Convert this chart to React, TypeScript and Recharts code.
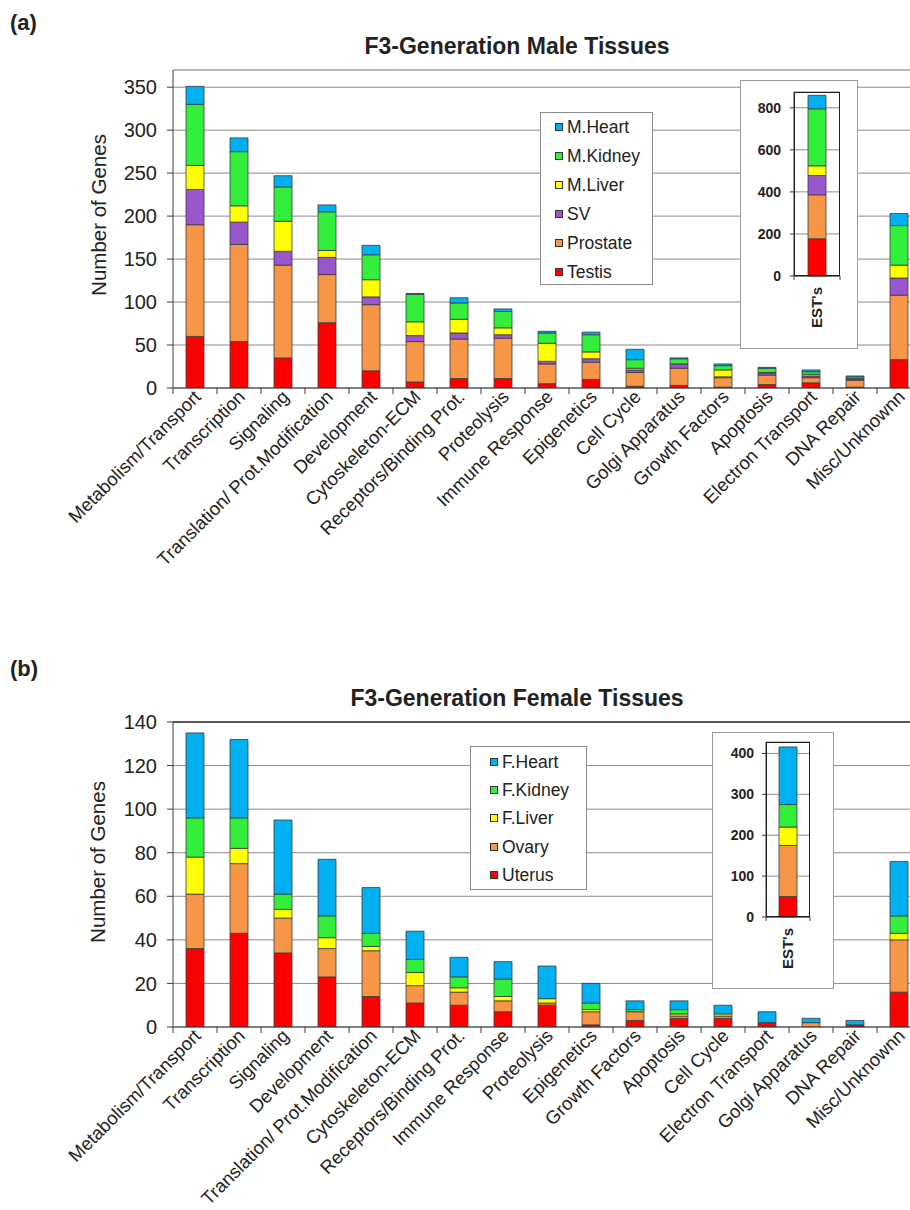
import React from 'react';
import { BarChart, Bar, XAxis, YAxis, CartesianGrid, ReferenceLine, Legend } from 'recharts';

// ---- colours ----
const HEART = '#00B0F0';
const KIDNEY = '#33EE3A';
const LIVER = '#FFFF00';
const SV_C = '#9A57CD';
const ORANGE = '#F79646';
const RED = '#FF0000';
const INK = '#222222';
const AXIS = '#3a3a3a';
const GRID = '#8a8a8a';
const FONT = '"Liberation Sans", Arial, sans-serif';

// ---- (a) male tissues ----
const maleCategories = [
  'Metabolism/Transport', 'Transcription', 'Signaling', 'Translation/ Prot.Modification',
  'Development', 'Cytoskeleton-ECM', 'Receptors/Binding Prot.', 'Proteolysis',
  'Immune Response', 'Epigenetics', 'Cell Cycle', 'Golgi Apparatus', 'Growth Factors',
  'Apoptosis', 'Electron Transport', 'DNA Repair', 'Misc/Unknownn',
];
const maleTestis = [60, 54, 35, 76, 20, 7, 11, 11, 5, 10, 2, 3, 1, 4, 6, 1, 33];
const maleProstate = [130, 113, 108, 56, 77, 47, 46, 47, 23, 20, 16, 20, 11, 11, 6, 8, 75];
const maleSV = [41, 26, 16, 20, 9, 7, 7, 4, 3, 4, 3, 5, 1, 2, 2, 1, 20];
const maleLiver = [28, 19, 35, 8, 20, 16, 16, 8, 21, 8, 2, 0, 8, 1, 2, 1, 15];
const maleKidney = [71, 63, 40, 45, 29, 32, 19, 19, 12, 20, 10, 6, 5, 5, 3, 2, 46];
const maleHeart = [21, 16, 13, 8, 11, 1, 6, 3, 2, 3, 12, 1, 2, 1, 2, 1, 14];
const maleTicks = [0, 50, 100, 150, 200, 250, 300, 350];

// EST's inset (Testis, Prostate, SV, M.Liver, M.Kidney, M.Heart)
const maleEst = [177, 209, 92, 46, 271, 64];
const maleEstTicks = [0, 200, 400, 600, 800];

// ---- (b) female tissues ----
const femaleCategories = [
  'Metabolism/Transport', 'Transcription', 'Signaling', 'Development',
  'Translation/ Prot.Modification', 'Cytoskeleton-ECM', 'Receptors/Binding Prot.',
  'Immune Response', 'Proteolysis', 'Epigenetics', 'Growth Factors', 'Apoptosis',
  'Cell Cycle', 'Electron Transport', 'Golgi Apparatus', 'DNA Repair', 'Misc/Unknownn',
];
const femaleUterus = [36, 43, 34, 23, 14, 11, 10, 7, 10, 1, 3, 4, 4, 2, 0, 1, 16];
const femaleOvary = [25, 32, 16, 13, 21, 8, 6, 5, 1, 6, 4, 1, 1, 0, 2, 0, 24];
const femaleLiver = [17, 7, 4, 5, 2, 6, 2, 2, 2, 1, 0, 1, 1, 0, 0, 0, 3];
const femaleKidney = [18, 14, 7, 10, 6, 6, 5, 8, 0, 3, 1, 2, 0, 0, 0, 0, 8];
const femaleHeart = [39, 36, 34, 26, 21, 13, 9, 8, 15, 9, 4, 4, 4, 5, 2, 2, 25];
const femaleTicks = [0, 20, 40, 60, 80, 100, 120, 140];

// EST's inset (Uterus, Ovary, F.Liver, F.Kidney, F.Heart)
const femaleEst = [50, 125, 45, 55, 141];
const femaleEstTicks = [0, 100, 200, 300, 400];

type Series = { key: string; color: string; values: number[] };

const maleSeries: Series[] = [
  { key: 'Testis', color: RED, values: maleTestis },
  { key: 'Prostate', color: ORANGE, values: maleProstate },
  { key: 'SV', color: SV_C, values: maleSV },
  { key: 'M.Liver', color: LIVER, values: maleLiver },
  { key: 'M.Kidney', color: KIDNEY, values: maleKidney },
  { key: 'M.Heart', color: HEART, values: maleHeart },
];
const femaleSeries: Series[] = [
  { key: 'Uterus', color: RED, values: femaleUterus },
  { key: 'Ovary', color: ORANGE, values: femaleOvary },
  { key: 'F.Liver', color: LIVER, values: femaleLiver },
  { key: 'F.Kidney', color: KIDNEY, values: femaleKidney },
  { key: 'F.Heart', color: HEART, values: femaleHeart },
];

const buildRows = (cats: string[], series: Series[]) =>
  cats.map((c, i) => {
    const row: Record<string, string | number> = { category: c };
    series.forEach((s) => { row[s.key] = s.values[i]; });
    return row;
  });

const buildEstRow = (series: Series[], est: number[]) => {
  const row: Record<string, string | number> = { category: "EST's" };
  series.forEach((s, i) => { row[s.key] = est[i]; });
  return [row];
};

const maleRows = buildRows(maleCategories, maleSeries);
const femaleRows = buildRows(femaleCategories, femaleSeries);
const maleEstRows = buildEstRow(maleSeries, maleEst);
const femaleEstRows = buildEstRow(femaleSeries, femaleEst);

// ---- shared pieces ----
const PLOT_W = 748;
const HALF_BAND = PLOT_W / 17 / 2;

const CategoryTick = (props: any) => {
  const { x, y, payload } = props;
  return (
    <g transform={`translate(${x},${y})`}>
      <line x1={-HALF_BAND} x2={-HALF_BAND} y1={0} y2={6} stroke={AXIS} strokeWidth={1} />
      <text
        transform="translate(7,10) rotate(-45)"
        textAnchor="end"
        fontSize={18.5}
        fontFamily={FONT}
        fill={INK}
      >
        {payload.value}
      </text>
    </g>
  );
};

const makeEstTick = (half: number) => (props: any) => {
  const { x, y, payload } = props;
  return (
    <g transform={`translate(${x},${y})`}>
      <line x1={-half} x2={-half} y1={0} y2={4} stroke={AXIS} />
      <line x1={half} x2={half} y1={0} y2={4} stroke={AXIS} />
      <text
        transform="translate(5,11) rotate(-90)"
        textAnchor="end"
        fontSize={15}
        fontWeight="bold"
        fontFamily={FONT}
        fill={INK}
      >
        {payload.value}
      </text>
    </g>
  );
};

type LegendProps = {
  items: Series[];
  width: number;
  height: number;
  firstCenter: number;
  step: number;
  iconLeft: number;
};

const BoxLegend = ({ items, width, height, firstCenter, step, iconLeft }: LegendProps) => {
  const ordered = [...items].reverse();
  return (
    <div
      style={{
        position: 'relative',
        width,
        height,
        boxSizing: 'border-box',
        border: '1px solid #8a8a8a',
        background: '#fff',
        fontFamily: FONT,
      }}
    >
      {ordered.map((s, i) => (
        <div
          key={s.key}
          style={{
            position: 'absolute',
            left: iconLeft,
            top: firstCenter + i * step - 10,
            height: 20,
            display: 'flex',
            alignItems: 'center',
            whiteSpace: 'nowrap',
          }}
        >
          <span
            style={{
              display: 'inline-block',
              width: 8,
              height: 8,
              boxSizing: 'border-box',
              background: s.color,
              border: '1px solid #333',
              marginRight: 4,
            }}
          />
          <span style={{ fontSize: 17.5, color: INK, lineHeight: '20px' }}>{s.key}</span>
        </div>
      ))}
    </div>
  );
};

const textBase: React.CSSProperties = {
  position: 'absolute',
  fontFamily: FONT,
  color: INK,
  whiteSpace: 'nowrap',
  lineHeight: 1,
};

type PanelProps = {
  top: number;
  rows: Record<string, string | number>[];
  series: Series[];
  domainMax: number;
  ticks: number[];
  plotHeight: number;
  chartHeight: number;
  frameStroke: string;
  legend: { left: number; top: number; width: number; height: number; firstCenter: number; step: number; iconLeft: number };
};

const MainPanel = ({ top, rows, series, domainMax, ticks, plotHeight, chartHeight, frameStroke, legend }: PanelProps) => (
  <div style={{ position: 'absolute', left: 0, top }}>
    <BarChart
      width={173 + PLOT_W}
      height={chartHeight}
      data={rows}
      margin={{ top: 70, right: 0, bottom: 0, left: 0 }}
      barSize={18}
    >
      <CartesianGrid horizontal vertical={false} stroke={GRID} strokeWidth={1} />
      <XAxis
        dataKey="category"
        interval={0}
        tickLine={false}
        tickSize={0}
        tickMargin={0}
        height={chartHeight - 70 - plotHeight}
        stroke={AXIS}
        tick={<CategoryTick />}
      />
      <YAxis
        width={173}
        domain={[0, domainMax]}
        ticks={ticks}
        interval={0}
        allowDataOverflow
        stroke={AXIS}
        tickSize={6}
        tickMargin={10}
        tick={{ fill: INK, fontSize: 20, fontFamily: FONT }}
      />
      <ReferenceLine y={domainMax} stroke={frameStroke} strokeWidth={1.5} />
      {series.map((s) => (
        <Bar
          key={s.key}
          dataKey={s.key}
          stackId="stack"
          fill={s.color}
          stroke="#3a3a3a"
          strokeWidth={0.8}
          isAnimationActive={false}
        />
      ))}
      <Legend
        layout="vertical"
        align="center"
        verticalAlign="middle"
        wrapperStyle={{ left: legend.left, top: legend.top - top, width: legend.width }}
        content={() => (
          <BoxLegend
            items={series}
            width={legend.width}
            height={legend.height}
            firstCenter={legend.firstCenter}
            step={legend.step}
            iconLeft={legend.iconLeft}
          />
        )}
      />
    </BarChart>
  </div>
);

type InsetProps = {
  left: number;
  top: number;
  width: number;
  height: number;
  plotLeft: number;
  plotTop: number;
  plotRight: number;
  plotBottom: number;
  rows: Record<string, string | number>[];
  series: Series[];
  domainMax: number;
  ticks: number[];
  tickMargin: number;
};

const Inset = ({ left, top, width, height, plotLeft, plotTop, plotRight, plotBottom, rows, series, domainMax, ticks, tickMargin }: InsetProps) => {
  const yAxisW = plotLeft - left;
  const rightM = left + width - plotRight;
  const xAxisH = top + height - plotBottom;
  const half = (plotRight - plotLeft) / 2;
  return (
    <div
      style={{
        position: 'absolute',
        left,
        top,
        width,
        height,
        boxSizing: 'border-box',
        border: '1px solid #9a9a9a',
        background: '#fff',
      }}
    >
      <div style={{ position: 'absolute', left: -1, top: -1 }}>
        <BarChart
          width={width}
          height={height}
          data={rows}
          margin={{ top: plotTop - top, right: rightM, bottom: 0, left: 0 }}
          barSize={18}
        >
          <CartesianGrid horizontal vertical={false} stroke={GRID} />
          <XAxis
            dataKey="category"
            interval={0}
            tickLine={false}
            tickSize={0}
            tickMargin={0}
            height={xAxisH}
            stroke={AXIS}
            tick={makeEstTick(half)}
          />
          <YAxis
            width={yAxisW}
            domain={[0, domainMax]}
            ticks={ticks}
            interval={0}
            stroke={AXIS}
            tickSize={4}
            tickMargin={tickMargin}
            tick={{ fill: INK, fontSize: 14, fontWeight: 'bold', fontFamily: FONT }}
          />
          {series.map((s) => (
            <Bar
              key={s.key}
              dataKey={s.key}
              stackId="est"
              fill={s.color}
              stroke="#3a3a3a"
              strokeWidth={0.8}
              isAnimationActive={false}
            />
          ))}
        </BarChart>
      </div>
      <div
        style={{
          position: 'absolute',
          left: plotLeft - left - 1,
          top: plotTop - top - 1,
          width: plotRight - plotLeft,
          height: plotBottom - plotTop,
          boxSizing: 'border-box',
          border: '1.5px solid #1e1e1e',
          pointerEvents: 'none',
        }}
      />
    </div>
  );
};

export default function App() {
  return (
    <div
      style={{
        position: 'fixed',
        left: 0,
        top: 0,
        width: 910,
        height: 1210,
        overflow: 'hidden',
        background: '#fff',
        fontFamily: FONT,
      }}
    >
      {/* (a) */}
      <MainPanel
        top={0}
        rows={maleRows}
        series={maleSeries}
        domainMax={370}
        ticks={maleTicks}
        plotHeight={318}
        chartHeight={640}
        frameStroke="#b5b5b5"
        legend={{ left: 540, top: 112, width: 113, height: 173, firstCenter: 13.5, step: 29, iconLeft: 14 }}
      />
      <Inset
        left={740}
        top={80}
        width={118}
        height={269}
        plotLeft={794}
        plotTop={92}
        plotRight={840}
        plotBottom={276}
        rows={maleEstRows}
        series={maleSeries}
        domainMax={875}
        ticks={maleEstTicks}
        tickMargin={9}
      />
      <div style={{ ...textBase, left: 10, top: 12, fontSize: 22, fontWeight: 'bold' }}>(a)</div>
      <div style={{ ...textBase, left: 517, top: 35, fontSize: 23, fontWeight: 'bold', transform: 'translateX(-50%)' }}>
        F3-Generation Male Tissues
      </div>
      <div style={{ ...textBase, left: 99, top: 215, fontSize: 20.5, transform: 'translate(-50%,-50%) rotate(-90deg)' }}>
        Number of Genes
      </div>

      {/* (b) */}
      <MainPanel
        top={652}
        rows={femaleRows}
        series={femaleSeries}
        domainMax={140}
        ticks={femaleTicks}
        plotHeight={305}
        chartHeight={558}
        frameStroke="#333333"
        legend={{ left: 470, top: 746, width: 117, height: 144, firstCenter: 14.5, step: 28.4, iconLeft: 19 }}
      />
      <Inset
        left={712}
        top={732}
        width={122}
        height={257}
        plotLeft={766}
        plotTop={742}
        plotRight={810}
        plotBottom={917}
        rows={femaleEstRows}
        series={femaleSeries}
        domainMax={428}
        ticks={femaleEstTicks}
        tickMargin={8}
      />
      <div style={{ ...textBase, left: 10, top: 658, fontSize: 22, fontWeight: 'bold' }}>(b)</div>
      <div style={{ ...textBase, left: 517, top: 687, fontSize: 23, fontWeight: 'bold', transform: 'translateX(-50%)' }}>
        F3-Generation Female Tissues
      </div>
      <div style={{ ...textBase, left: 98, top: 862, fontSize: 20.5, transform: 'translate(-50%,-50%) rotate(-90deg)' }}>
        Number of Genes
      </div>
    </div>
  );
}
